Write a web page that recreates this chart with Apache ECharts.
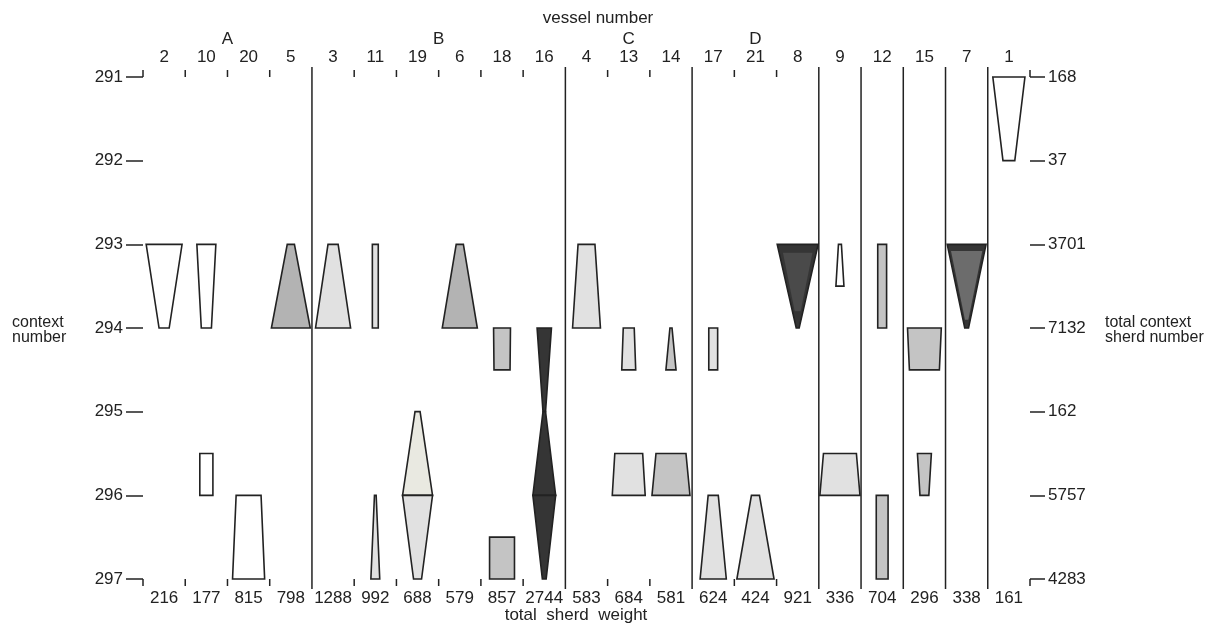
<!DOCTYPE html>
<html>
<head>
<meta charset="utf-8">
<script src="https://cdn.jsdelivr.net/npm/echarts@6/dist/echarts.min.js"></script>
<style>
html, body { margin: 0; padding: 0; background: #fff; }
#chart { width: 1230px; height: 630px; }
</style>
</head>
<body>
<div id="chart"></div>
<script>
// vessel order along the top, and total sherd weight of each vessel (bottom row)
var vessels = ['2', '10', '20', '5', '3', '11', '19', '6', '18', '16', '4', '13', '14', '17', '21', '8', '9', '12', '15', '7', '1'];
var sherdWeights = [216, 177, 815, 798, 1288, 992, 688, 579, 857, 2744, 583, 684, 581, 624, 424, 921, 336, 704, 296, 338, 161];

// contexts (rows) and total context sherd number (right side)
var contexts = [291, 292, 293, 294, 295, 296, 297];
var contextTotals = [168, 37, 3701, 7132, 162, 5757, 4283];

// vessel groups, position counted in columns from the left edge
var groupNames = ['A', 'B', 'C', 'D'];
var groupPos = [2, 7, 11.5, 14.5];

// column boundaries drawn as full height dividers
var separators = [4, 10, 13, 16, 17, 18, 19, 20];

// [column, context from, width from, context to, width to, shade]
// widths in percent of a column
var segments = [
    [0, 293, 85, 294, 24, 0],
    [1, 293, 45, 294, 24, 0],
    [1, 295.5, 31, 296, 31, 0],
    [2, 296, 59, 297, 76, 0],
    [3, 293, 17, 294, 92, 3],
    [4, 293, 24, 294, 83, 1],
    [5, 293, 14, 294, 14, 1],
    [5, 296, 4, 297, 21, 1],
    [6, 295, 12, 296, 71, 6],
    [6, 296, 71, 297, 19, 1],
    [7, 293, 17, 294, 83, 3],
    [8, 294, 40, 294.5, 38, 2],
    [8, 296.5, 59, 297, 59, 2],
    [9, 294, 34, 295, 6, 4],
    [9, 295, 6, 296, 54, 4],
    [9, 296, 54, 297, 9, 4],
    [10, 293, 40, 294, 66, 1],
    [11, 294, 26, 294.5, 33, 1],
    [11, 295.5, 66, 296, 78, 1],
    [12, 294, 5, 294.5, 24, 2],
    [12, 295.5, 71, 296, 90, 2],
    [13, 294, 21, 294.5, 21, 1],
    [13, 296, 24, 297, 62, 1],
    [14, 296, 19, 297, 88, 1],
    [15, 293, 97, 294, 7, 4],
    [15, 293.1, 70, 293.8, 14, 7],
    [16, 293, 7, 293.5, 19, 0],
    [16, 295.5, 78, 296, 95, 1],
    [17, 293, 21, 294, 21, 2],
    [17, 296, 28, 297, 28, 2],
    [18, 294, 80, 294.5, 71, 2],
    [18, 295.5, 33, 296, 21, 2],
    [19, 293, 92, 294, 9, 4],
    [19, 293.08, 74, 293.9, 8, 5],
    [20, 291, 76, 292, 28, 0]
];

// shade 5 and 7 are the lighter cores inside the dark vessels
var shadeColors = ['#ffffff', '#e1e1e1', '#c4c4c4', '#b3b3b3', '#353535', '#6c6c6c', '#e9e9e1', '#4a4a4a'];
var ink = '#222';
var font = "'Liberation Sans', Arial, sans-serif";

var render_segment = function(params, api) {
    var col = api.value(0);
    var band = api.size([1, 0])[0];
    var p0 = api.coord([col, api.value(1)]);
    var p1 = api.coord([col, api.value(3)]);
    var h0 = api.value(2) / 100 * band / 2;
    var h1 = api.value(4) / 100 * band / 2;
    var shade = api.value(5);
    var core = shade === 5 || shade === 7;
    return {
        type: 'polygon',
        shape: { points: [[p0[0] - h0, p0[1]], [p0[0] + h0, p0[1]], [p1[0] + h1, p1[1]], [p1[0] - h1, p1[1]]] },
        style: { fill: shadeColors[shade], stroke: core ? null : ink, lineWidth: 1.6 }
    };
};

var render_frame = function(params, api) {
    var col = api.value(0);
    var band = api.size([1, 0])[0];
    var top = api.coord([col, contexts[0]]);
    var bot = api.coord([col, contexts[contexts.length - 1]]);
    var children = [];
    var edges = [col];
    if (col === vessels.length - 1) edges.push(col + 1);
    edges.forEach(function(k) {
        var x = top[0] - band / 2 + (k - col) * band;
        var lines = [];
        if (separators.indexOf(k) >= 0) {
            lines.push([[x, top[1] - 10], [x, bot[1] + 10]]);
        } else {
            lines.push([[x, top[1] - 7], [x, top[1]]]);
            lines.push([[x, bot[1]], [x, bot[1] + 7]]);
        }
        lines.forEach(function(l) {
            children.push({
                type: 'line',
                shape: { x1: l[0][0], y1: l[0][1], x2: l[1][0], y2: l[1][1] },
                style: { stroke: ink, lineWidth: 1.5 }
            });
        });
    });
    return { type: 'group', children: children };
};

var render_group = function(params, api) {
    var band = api.size([1, 0])[0];
    var p = api.coord([0, contexts[0]]);
    var x = p[0] - band / 2 + groupPos[params.dataIndex] * band;
    return {
        type: 'text',
        x: x,
        y: p[1] - 38,
        style: { text: groupNames[params.dataIndex], fill: ink, font: '17px ' + font, textAlign: 'center', textVerticalAlign: 'middle' }
    };
};

var get_option = function() {
    var labelStyle = { color: ink, fontSize: 17, fontFamily: font };
    var option = {
        backgroundColor: '#fff',
        animation: false,
        grid: { left: 143, right: 200, top: 77, bottom: 51 },
        xAxis: [
            {
                type: 'category',
                position: 'bottom',
                data: vessels.map(function(v, i) { return sherdWeights[i]; }),
                axisLine: { show: false },
                axisTick: { show: false },
                axisLabel: Object.assign({ margin: 11, interval: 0 }, labelStyle)
            },
            {
                type: 'category',
                position: 'top',
                data: vessels,
                axisLine: { show: false },
                axisTick: { show: false },
                axisLabel: Object.assign({ margin: 11, interval: 0 }, labelStyle)
            }
        ],
        yAxis: [
            {
                type: 'value', min: 291, max: 297, interval: 1, inverse: true,
                position: 'left',
                axisLine: { show: false },
                axisTick: { show: true, length: 17, lineStyle: { color: ink, width: 1.5 } },
                splitLine: { show: false },
                axisLabel: Object.assign({ margin: 20 }, labelStyle)
            },
            {
                type: 'value', min: 291, max: 297, interval: 1, inverse: true,
                position: 'right',
                axisLine: { show: false },
                axisTick: { show: true, length: 15, lineStyle: { color: ink, width: 1.5 } },
                splitLine: { show: false },
                axisLabel: Object.assign({
                    margin: 18,
                    formatter: function(v) { return contextTotals[contexts.indexOf(v)]; }
                }, labelStyle)
            }
        ],
        graphic: [
            { type: 'text', x: 598, y: 18, style: { text: 'vessel number', font: '17px ' + font, fill: ink, textAlign: 'center', textVerticalAlign: 'middle' } },
            { type: 'text', x: 576, y: 615, style: { text: 'total  sherd  weight', font: '17px ' + font, fill: ink, textAlign: 'center', textVerticalAlign: 'middle' } },
            { type: 'text', x: 12, y: 330, style: { text: 'context\nnumber', font: '16px ' + font, lineHeight: 15, fill: ink, textAlign: 'left', textVerticalAlign: 'middle' } },
            { type: 'text', x: 1105, y: 330, style: { text: 'total context\nsherd number', font: '16px ' + font, lineHeight: 15, fill: ink, textAlign: 'left', textVerticalAlign: 'middle' } }
        ],
        series: [
            {
                type: 'custom',
                name: 'frame',
                xAxisIndex: 0, yAxisIndex: 0,
                clip: false,
                renderItem: render_frame,
                data: vessels.map(function(v, i) { return [i, contexts[0]]; })
            },
            {
                type: 'custom',
                name: 'groups',
                xAxisIndex: 0, yAxisIndex: 0,
                clip: false,
                renderItem: render_group,
                data: groupNames.map(function() { return [0, contexts[0]]; })
            },
            {
                type: 'custom',
                name: 'vessels',
                xAxisIndex: 0, yAxisIndex: 0,
                clip: false,
                renderItem: render_segment,
                data: segments
            }
        ]
    };
    return option;
};

var myChart = echarts.init(document.getElementById('chart'));
myChart.setOption(get_option());
</script>
</body>
</html>
